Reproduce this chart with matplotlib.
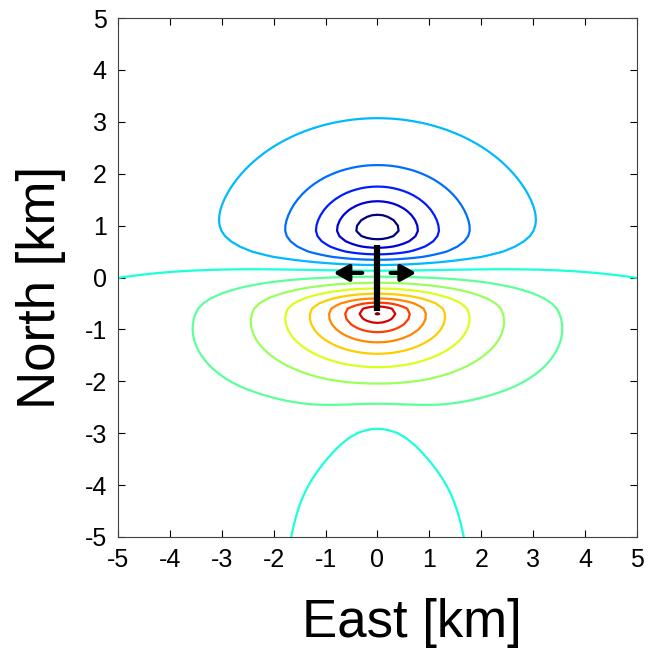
import numpy as np
import matplotlib
matplotlib.use("Agg")
import matplotlib.pyplot as plt

plt.rcParams['font.family'] = ['Liberation Sans', 'DejaVu Sans']
plt.rcParams['axes.unicode_minus'] = False

# contour levels, coloured with jet from the lowest to the highest
levels = np.arange(-5, 9)

# points where a contour crosses: east, north, level, weight
pt_east = [0, 0, 0, 0, 0, 0, 0, 0, 0, 0, 0, 0, 0, 0, 0, 0, 0, 0, 0, 0, 0, 0, 0, 0, 0, 0,
           0.37, 0.76, 1.18, 1.72, 2.86, 0.47, 0.73, 1.0, 1.33, 1.71, 2.25, 3.3,
           2.5, 5, 3.23, 1.0, 1.3, 2.84, 2.07, 1.56, 1.9, 1.4, 1.6, 2.2, 2.2, 2.8, 1.2, 1.0]
pt_north = [2.95, 2.2, 1.8, 1.49, 1.17, 0.76, 0.55, 0.43, 0.34, 0.28, 0.16, -0.01, -0.11, -0.18,
            -0.3, -0.4, -0.49, -0.57, -0.82, -1.06, -1.27, -1.43, -1.67, -2.0, -2.23, -3.0,
            0.95, 1.0, 1.1, 1.3, 1.7, -0.65, -0.7, -0.75, -0.85, -1.0, -1.2, -1.3,
            0.09, -0.08, 0.11, 0.17, 0.34, -0.82, -0.82, -0.82, -5, -4, -2.7, 2.48, 0.75, -2.2, -2.05, -1.67]
pt_level = [-1, -2, -3, -4, -5, -5, -4, -3, -2, -1, 0, 1, 2, 3, 4, 5, 6, 7, 7, 6, 5, 4, 3, 2, 1, 0,
            -5, -4, -3, -2, -1, 7, 6, 5, 4, 3, 2, 1,
            0, 0, 0, 0, -1, 1, 2, 3, 0, 0, 1, -1, -1, 1, 2, 3]
pt_weight = [3, 1, 1, 1, 1, 1, 1, 1, 1, 1, 1, 1, 1, 1, 1, 1, 1, 1, 1, 1, 1, 1, 1, 2, 4, 4,
             1, 1, 1, 1, 3, 1, 1, 1, 1, 1, 1, 3,
             3, 3, 3, 2, 1, 2, 1, 1, 4, 4, 4, 2, 1, 2, 1, 1]

# field values between contours (peaks and flat areas)
val_east = [0, 0, 0, 0, 4.5, 4.5, 4.5, 4.5, 3, 2.5, 4.5]
val_north = [0.95, -0.65, -4, -5, 4.5, -4.5, 2.0, -2.0, -4, -5, -3]
val_value = [-5.6, 8.5, -0.4, -0.6, -0.3, 0.4, -0.5, 0.5, 0.4, 0.3, 0.5]
val_weight = [2, 4, 2, 2, 1, 2, 1, 1, 2, 1, 1]

# shapes of the lobes that build the field (mirrored when east != 0)
lobe_kind = ['lor', 'lor', 'exp', 'lor', 'lor', 'lor', 'lor', 'lor', 'lor']
lobe_east = [0.0, 0.0, 0.0, 0.0, 2.0, 0.0, 0.0, 0.0, 3.2]
lobe_north = [0.95, 0.6, -0.65, -0.9, -2.4, -5.5, -3.0, 0.5, -5.0]
lobe_sx = [1.05, 0.9, 2.0, 1.6, 1.2, 0.9, 0.95, 2.5, 1.4]
lobe_sy_n = [0.76, 0.25, 0.57, 1.2, 0.9, 2.0, 0.6, 0.6, 1.6]
lobe_sy_s = [0.5, 0.2, 1.1, 1.2, 0.9, 2.0, 0.7, 0.3, 1.6]
lobe_p = [0.8, 1.0, 1.0, 1.5, 0.7, 1.0, 1.0, 1.0, 1.0]

# dike and opening arrows
dike_north = [-0.65, 0.63]
arrow_north = 0.09
arrow_from = [-0.24, 0.2]
arrow_to = [-0.9, 0.8]

ticks = np.arange(-5, 6)


def lobe(X, Y, kind, x0, y0, sx, syn, sys_, p):
    sy = np.where(Y > y0, syn, sys_)
    q = ((X - x0) / sx) ** 2 + ((Y - y0) / sy) ** 2
    if kind == 'exp':
        return np.exp(-np.sqrt(q))
    return (1 + q) ** (-p)


def basis(X, Y):
    cols = []
    for k, x0, y0, sx, syn, sys_, p in zip(lobe_kind, lobe_east, lobe_north, lobe_sx,
                                          lobe_sy_n, lobe_sy_s, lobe_p):
        b = lobe(X, Y, k, x0, y0, sx, syn, sys_, p)
        if x0 != 0:
            b = b + lobe(X, Y, k, -x0, y0, sx, syn, sys_, p)
        cols.append(b)
    return np.stack(cols, axis=-1)


# fit lobe strengths to the read points
px = np.array(pt_east + val_east, dtype=float)
py = np.array(pt_north + val_north, dtype=float)
pv = np.array(pt_level + val_value, dtype=float)
pw = np.array(pt_weight + val_weight, dtype=float)
A = basis(px, py)
amp = np.linalg.lstsq(A * pw[:, None], pv * pw, rcond=None)[0]

grid = np.arange(-5, 5.001, 0.1)
X, Y = np.meshgrid(grid, grid)
Z = basis(X, Y) @ amp

fig = plt.figure(figsize=(6.48, 6.61), dpi=100)
ax = fig.add_axes([0.182, 0.1876, 0.801, 0.785])
ax.contour(X, Y, Z, levels=levels, cmap='jet', linewidths=1.6)

ax.plot([0, 0], dike_north, color='black', lw=4.5, solid_capstyle='butt')
for s, e in zip(arrow_from, arrow_to):
    ax.annotate('', xy=(e, arrow_north), xytext=(s, arrow_north),
                arrowprops=dict(arrowstyle='-|>,head_length=0.9,head_width=0.5', color='black', lw=3))

ax.set_xlim(-5, 5)
ax.set_ylim(-5, 5)
ax.set_xticks(ticks)
ax.set_yticks(ticks)
ax.tick_params(direction='in', top=True, right=True, length=5, labelsize=18, pad=8)
for sp in ax.spines.values():
    sp.set_color('#404040')
ax.set_xlabel('East [km]', fontsize=38)
ax.set_ylabel('North [km]', fontsize=38)
ax.xaxis.set_label_coords(0.566, -0.118)
ax.yaxis.set_label_coords(-0.1, 0.481)

fig.savefig('out.png', dpi=100)
